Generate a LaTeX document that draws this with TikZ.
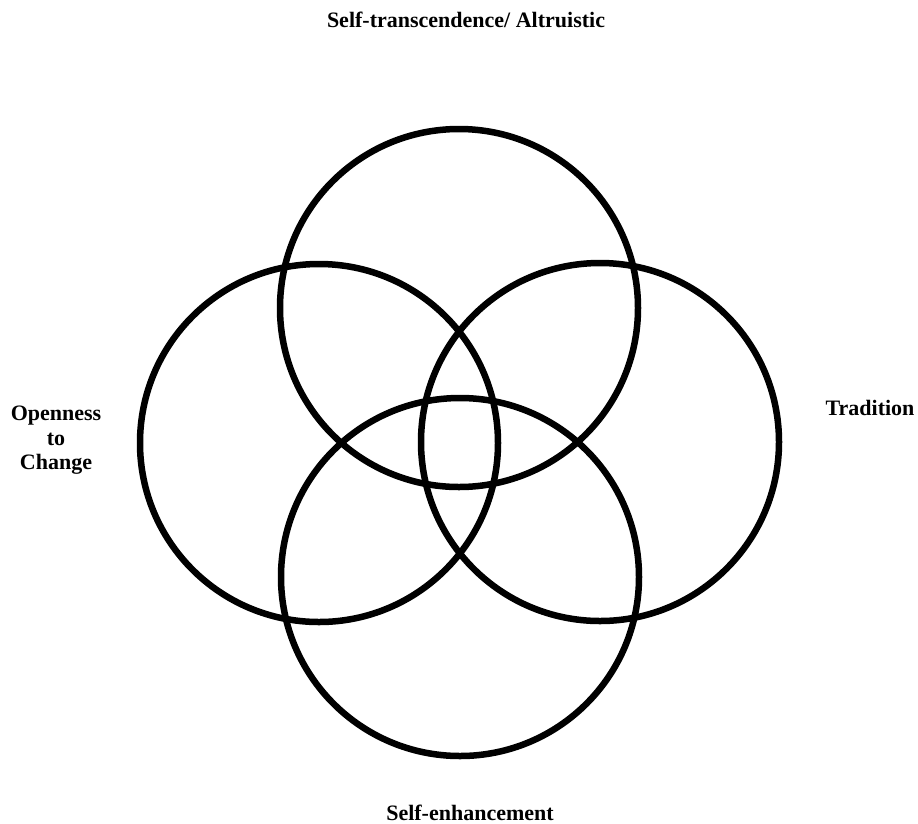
\documentclass[tikz,border=0pt]{standalone}
\usepackage{fontspec}
\setmainfont{Liberation Serif}
\begin{document}
\begin{tikzpicture}[x=1pt, y=-1pt,
  ring/.style={draw, circle, line width=6.5pt, minimum size=358pt, inner sep=0pt},
  lbl/.style={font=\fontsize{22}{24.5}\selectfont\bfseries, inner sep=0pt, align=center}]
\useasboundingbox (0,0) rectangle (918,823);

% the four value circles
\node[ring] (trans) at (459,308) {};
\node[ring] (open) at (319,443) {};
\node[ring] (trad) at (600,442) {};
\node[ring] (enh) at (460,577) {};

% labels
\node[lbl, anchor=base] (transl) at (466,27) {Self-transcendence/ Altruistic};
\node[lbl, anchor=north] (openl) at (56,406) {Openness\\to\\Change};
\node[lbl, anchor=base] (tradl) at (870,415) {Tradition};
\node[lbl, anchor=base] (enhl) at (470,820) {Self-enhancement};
\end{tikzpicture}
\end{document}
